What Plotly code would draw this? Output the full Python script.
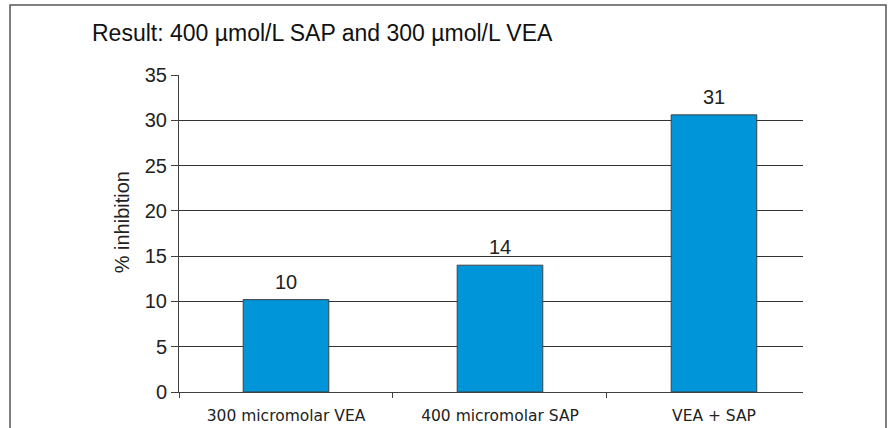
import plotly.graph_objects as go

categories = ["300 micromolar VEA", "400 micromolar SAP", "VEA + SAP"]
inhibition = [10.2, 14.0, 30.6]
labels = ["10", "14", "31"]
y_ticks = [0, 5, 10, 15, 20, 25, 30, 35]

fig = go.Figure()
fig.add_trace(go.Bar(
    x=categories,
    y=inhibition,
    width=0.4,
    marker=dict(color="#0094d8", line=dict(color="#404040", width=1)),
))

# value labels above each bar
for cat, val, lab in zip(categories, inhibition, labels):
    fig.add_annotation(
        x=cat, y=val, text=lab, showarrow=False,
        yanchor="middle", yshift=18,
        font=dict(size=20, color="#222"),
    )

fig.add_annotation(
    text="% inhibition", textangle=-90,
    xref="paper", yref="paper", x=-0.091, y=0.536,
    xanchor="center", yanchor="middle", showarrow=False,
    font=dict(size=20, color="#222"),
)

fig.update_layout(
    width=891,
    height=428,
    margin=dict(l=179, r=88, t=75, b=36),
    paper_bgcolor="white",
    plot_bgcolor="white",
    font=dict(family="Liberation Sans, Arial, sans-serif", color="#222"),
    showlegend=False,
    title=dict(
        text="Result: 400 \u00b5mol/L SAP and 300 \u00b5mol/L VEA",
        x=92 / 891, xanchor="left", y=1 - 33 / 428, yanchor="middle",
        font=dict(size=23, color="#111"),
    ),
    shapes=[dict(
        type="rect", xref="paper", yref="paper",
        x0=-0.2708, x1=1.133, y0=-0.3, y1=1.2208,
        line=dict(color="#555", width=1.5),
    )],
)

fig.update_xaxes(
    range=[-0.5, 2.416],
    tickson="boundaries",
    ticks="outside", ticklen=5, tickcolor="#404040",
    showline=True, linecolor="#404040", linewidth=1,
    tickfont=dict(family="DejaVu Sans, sans-serif", size=15.5, color="#222"),
    ticklabelstandoff=9,
    showgrid=False,
    automargin=False,
)
fig.update_yaxes(
    range=[0, 35],
    tickvals=y_ticks,
    ticks="outside", ticklen=7, tickcolor="#404040",
    showline=True, linecolor="#404040", linewidth=1,
    showgrid=True, gridcolor="#333", gridwidth=1,
    zeroline=False,
    tickfont=dict(size=20, color="#222"),
    automargin=False,
)

fig.write_html(
    "out.html",
    config={"displayModeBar": False},
    post_script="document.body.style.margin='0';",
)
